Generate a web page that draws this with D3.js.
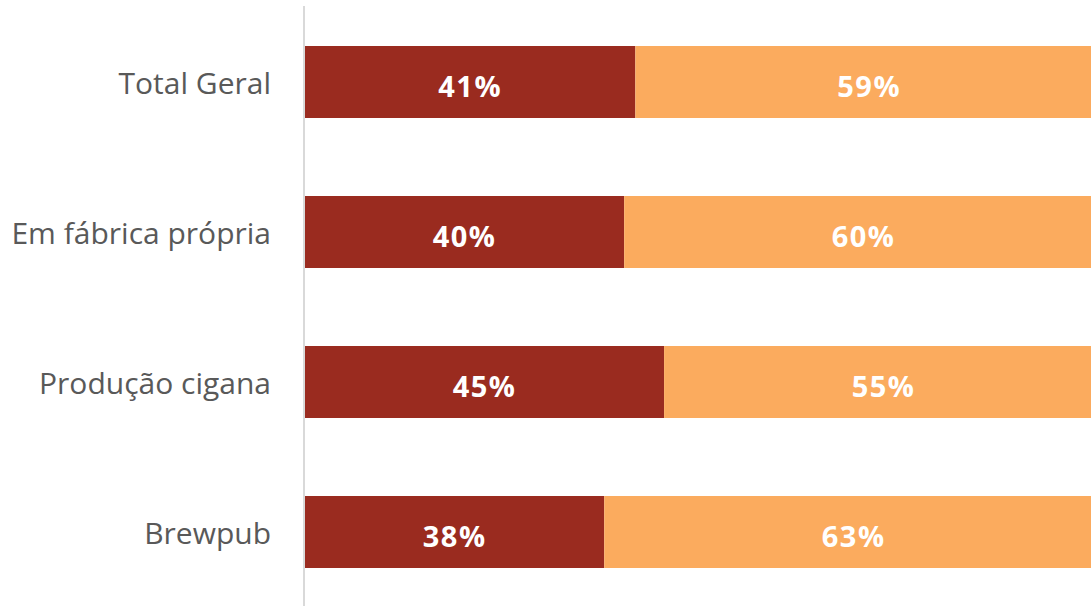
<!DOCTYPE html>
<html>
<head>
<meta charset="utf-8">
<script src="https://cdn.jsdelivr.net/npm/d3@7"></script>
<style>
  html, body { margin: 0; padding: 0; background: #fff; }
  svg { display: block; }
</style>
</head>
<body>
<div id="chart"></div>
<script>
// categorias e valores (partes de 100%)
const categories = ['Total Geral', 'Em fábrica própria', 'Produção cigana', 'Brewpub'];
const seriesA = [41.4, 40, 45, 37.5];
const seriesB = [58.6, 60, 55, 62.5];
const seriesColors = ['#9A2B1F', '#FBAB5E'];

const width = 1091, height = 606;
const margin = { top: 6, right: -12, bottom: 0, left: 304 };

const svg = d3.select('#chart').append('svg')
  .attr('width', width)
  .attr('height', height);

const x = d3.scaleLinear()
  .domain([0, 100])
  .range([margin.left + 1, width - margin.right]);

const y = d3.scaleBand()
  .domain(categories)
  .range([margin.top + 1, height + 1])
  .paddingInner(0.52)
  .paddingOuter(0.26);

const rows = categories.map((c, i) => ({ cat: c, a: seriesA[i], b: seriesB[i] }));
const stack = d3.stack().keys(['a', 'b'])(rows);

const g = svg.append('g');

stack.forEach((layer, k) => {
  g.append('g').selectAll('rect')
    .data(layer)
    .join('rect')
    .attr('x', d => x(d[0]))
    .attr('y', d => y(d.data.cat))
    .attr('width', d => x(d[1]) - x(d[0]))
    .attr('height', y.bandwidth())
    .attr('fill', seriesColors[k]);

  g.append('g').selectAll('text')
    .data(layer)
    .join('text')
    .attr('x', d => (x(d[0]) + x(d[1])) / 2)
    .attr('y', d => y(d.data.cat) + y.bandwidth() / 2)
    .attr('dy', '0.5em')
    .attr('text-anchor', 'middle')
    .attr('fill', '#fff')
    .attr('font-family', '"Open Sans", "Noto Sans", sans-serif')
    .attr('font-weight', 'bold')
    .attr('font-size', 29)
    .attr('letter-spacing', 1.5)
    .text(d => Math.round(d[1] - d[0]) + '%');
});

// eixo vertical
const yAxis = d3.axisLeft(y).tickSize(0).tickPadding(33);
const ax = svg.append('g')
  .attr('transform', `translate(${margin.left},0)`)
  .call(yAxis);
ax.select('.domain')
  .attr('d', `M0,${margin.top}V${height}`)
  .attr('stroke', '#d9d9d9')
  .attr('stroke-width', 2);
ax.selectAll('text')
  .attr('fill', '#595959')
  .attr('dy', '0.41em')
  .attr('font-family', '"Open Sans", "Noto Sans", sans-serif')
  .attr('font-size', 30);
</script>
</body>
</html>
